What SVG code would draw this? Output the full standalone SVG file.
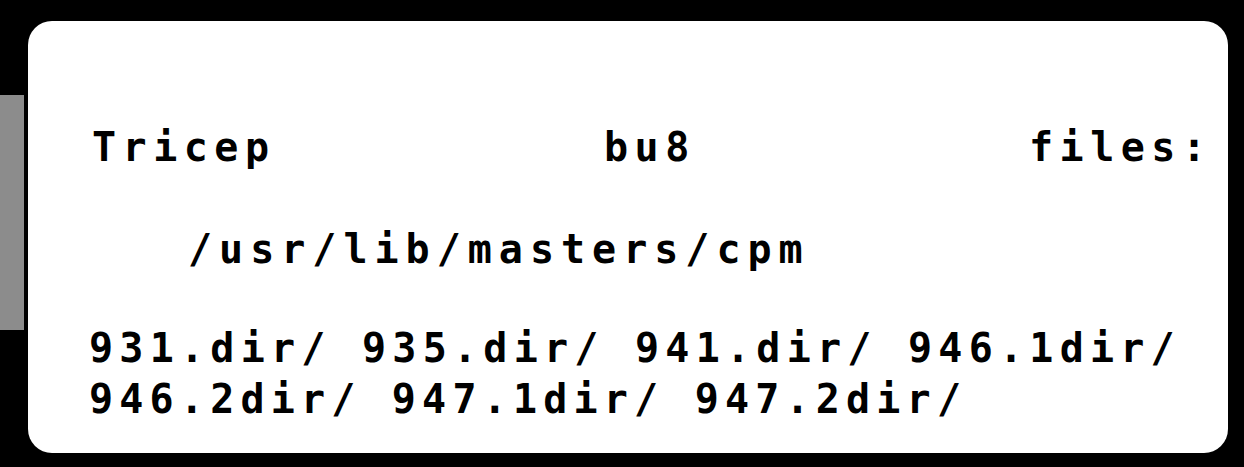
<svg xmlns="http://www.w3.org/2000/svg" width="1244" height="467" viewBox="0 0 1244 467">
  <style>
    .t { font-family: "DejaVu Sans Mono", "Liberation Mono", monospace; font-weight: bold; font-size: 40px; letter-spacing: 6.5px; fill: #000; }
  </style>
  <rect x="0" y="0" width="1244" height="467" fill="#000"/>
  <rect x="0" y="95" width="24" height="235" fill="#8c8c8c"/>
  <rect id="card" x="28" y="21" width="1200" height="432" rx="24" ry="24" fill="#fff"/>
  <g id="label">
    <text class="t" x="92" y="161">Tricep</text>
    <text class="t" x="604" y="161">bu8</text>
    <text class="t" x="1029" y="161">files:</text>
    <text class="t" x="188" y="263" style="letter-spacing:7px">/usr/lib/masters/cpm</text>
    <text class="t" x="89" y="362" style="letter-spacing:6.25px">931.dir/ 935.dir/ 941.dir/ 946.1dir/</text>
    <text class="t" x="89" y="413" style="letter-spacing:6.2px">946.2dir/ 947.1dir/ 947.2dir/</text>
  </g>
</svg>
